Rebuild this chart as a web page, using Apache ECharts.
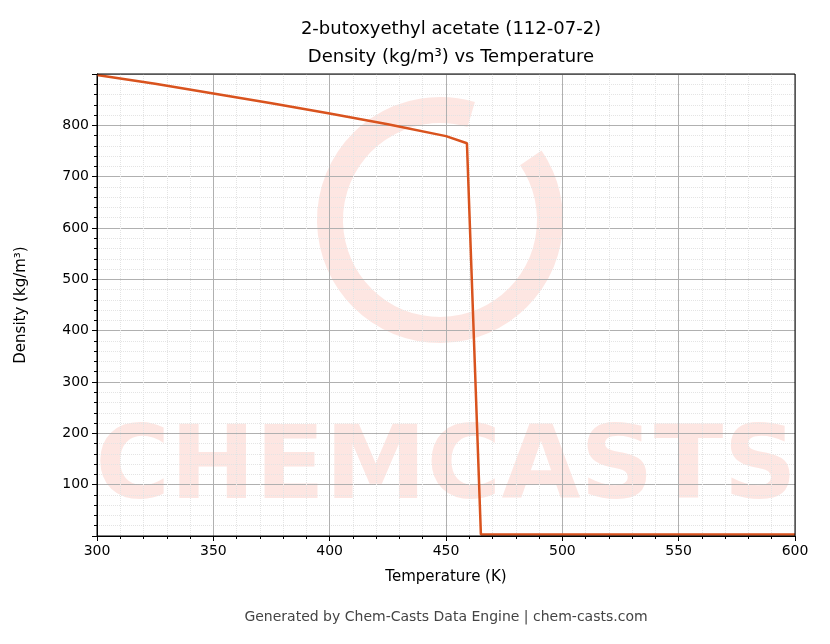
<!DOCTYPE html>
<html><head><meta charset="utf-8">
<script src="https://cdn.jsdelivr.net/npm/echarts@6/dist/echarts.min.js"></script>
<style>html,body{margin:0;padding:0;background:#fff}#c{width:830px;height:644px}</style>
</head><body><div id="c"></div>
<script>
const temps = [300, 325, 350, 375, 400, 425, 450, 459, 465, 500, 550, 600];
const density = [898, 881, 862, 843, 823, 802, 779, 765, 3, 3, 3, 3];
const chart = echarts.init(document.getElementById('c'));
const font = 'DejaVu Sans';
chart.setOption({
  animation: false,
  title: {text: '2-butoxyethyl acetate (112-07-2)\nDensity (kg/m³) vs Temperature', left: 446, top: 10, textAlign: 'center',
    textStyle: {fontFamily: font, fontSize: 18, fontWeight: 'normal', color: '#000', lineHeight: 28}},
  graphic: [
    {type: 'text', x: 446, y: 420, z: 0, style: {text: 'CHEMCASTS', fontFamily: font, fontWeight: 'bold', fontSize: 102, fill: 'rgba(250,200,190,0.45)', align: 'center'}},
    {type: 'arc', shape: {cx: 440, cy: 220, r: 110, startAngle: -0.6, endAngle: 5.0}, z: 0, style: {fill: 'none', stroke: 'rgba(250,200,190,0.45)', lineWidth: 26}},
    {type: 'text', x: 446, y: 610, style: {text: 'Generated by Chem-Casts Data Engine | chem-casts.com', fontFamily: font, fontSize: 14, fill: '#444', align: 'center'}},
    {type: 'rect', shape: {x: 97, y: 74, width: 698, height: 462}, style: {fill: 'none', stroke: '#000', lineWidth: 1}, z: 10}
  ],
  grid: {left: 97, right: 35, top: 74, bottom: 108},
  xAxis: {type: 'value', min: 300, max: 600, interval: 50, name: 'Temperature (K)', nameLocation: 'middle', nameGap: 34,
    nameTextStyle: {fontFamily: font, fontSize: 15, color: '#000'},
    axisLine: {onZero: false, lineStyle: {color: '#000'}}, axisTick: {length: 5, lineStyle: {color: '#000'}},
    axisLabel: {fontFamily: font, fontSize: 14, color: '#000'},
    minorTick: {show: true, splitNumber: 5, length: 3, lineStyle: {color: '#000'}},
    splitLine: {lineStyle: {color: '#b0b0b0'}}, minorSplitLine: {show: true, lineStyle: {color: '#e4e4e4', type: 'dotted'}}},
  yAxis: {type: 'value', min: 0, max: 900, interval: 100, name: 'Density (kg/m³)', nameLocation: 'middle', nameGap: 68,
    nameTextStyle: {fontFamily: font, fontSize: 15, color: '#000'},
    axisLine: {show: true, lineStyle: {color: '#000'}}, axisTick: {length: 5, lineStyle: {color: '#000'}},
    axisLabel: {fontFamily: font, fontSize: 14, color: '#000', formatter: v => (v === 0 || v === 900) ? '' : v},
    minorTick: {show: true, splitNumber: 5, length: 3, lineStyle: {color: '#000'}},
    splitLine: {lineStyle: {color: '#b0b0b0'}}, minorSplitLine: {show: true, lineStyle: {color: '#e4e4e4', type: 'dotted'}}},
  series: [{type: 'line', data: temps.map((t, i) => [t, density[i]]), showSymbol: false, z: 5,
    lineStyle: {color: '#d9531e', width: 2.5}, itemStyle: {color: '#d9531e'}}]
});
</script></body></html>
